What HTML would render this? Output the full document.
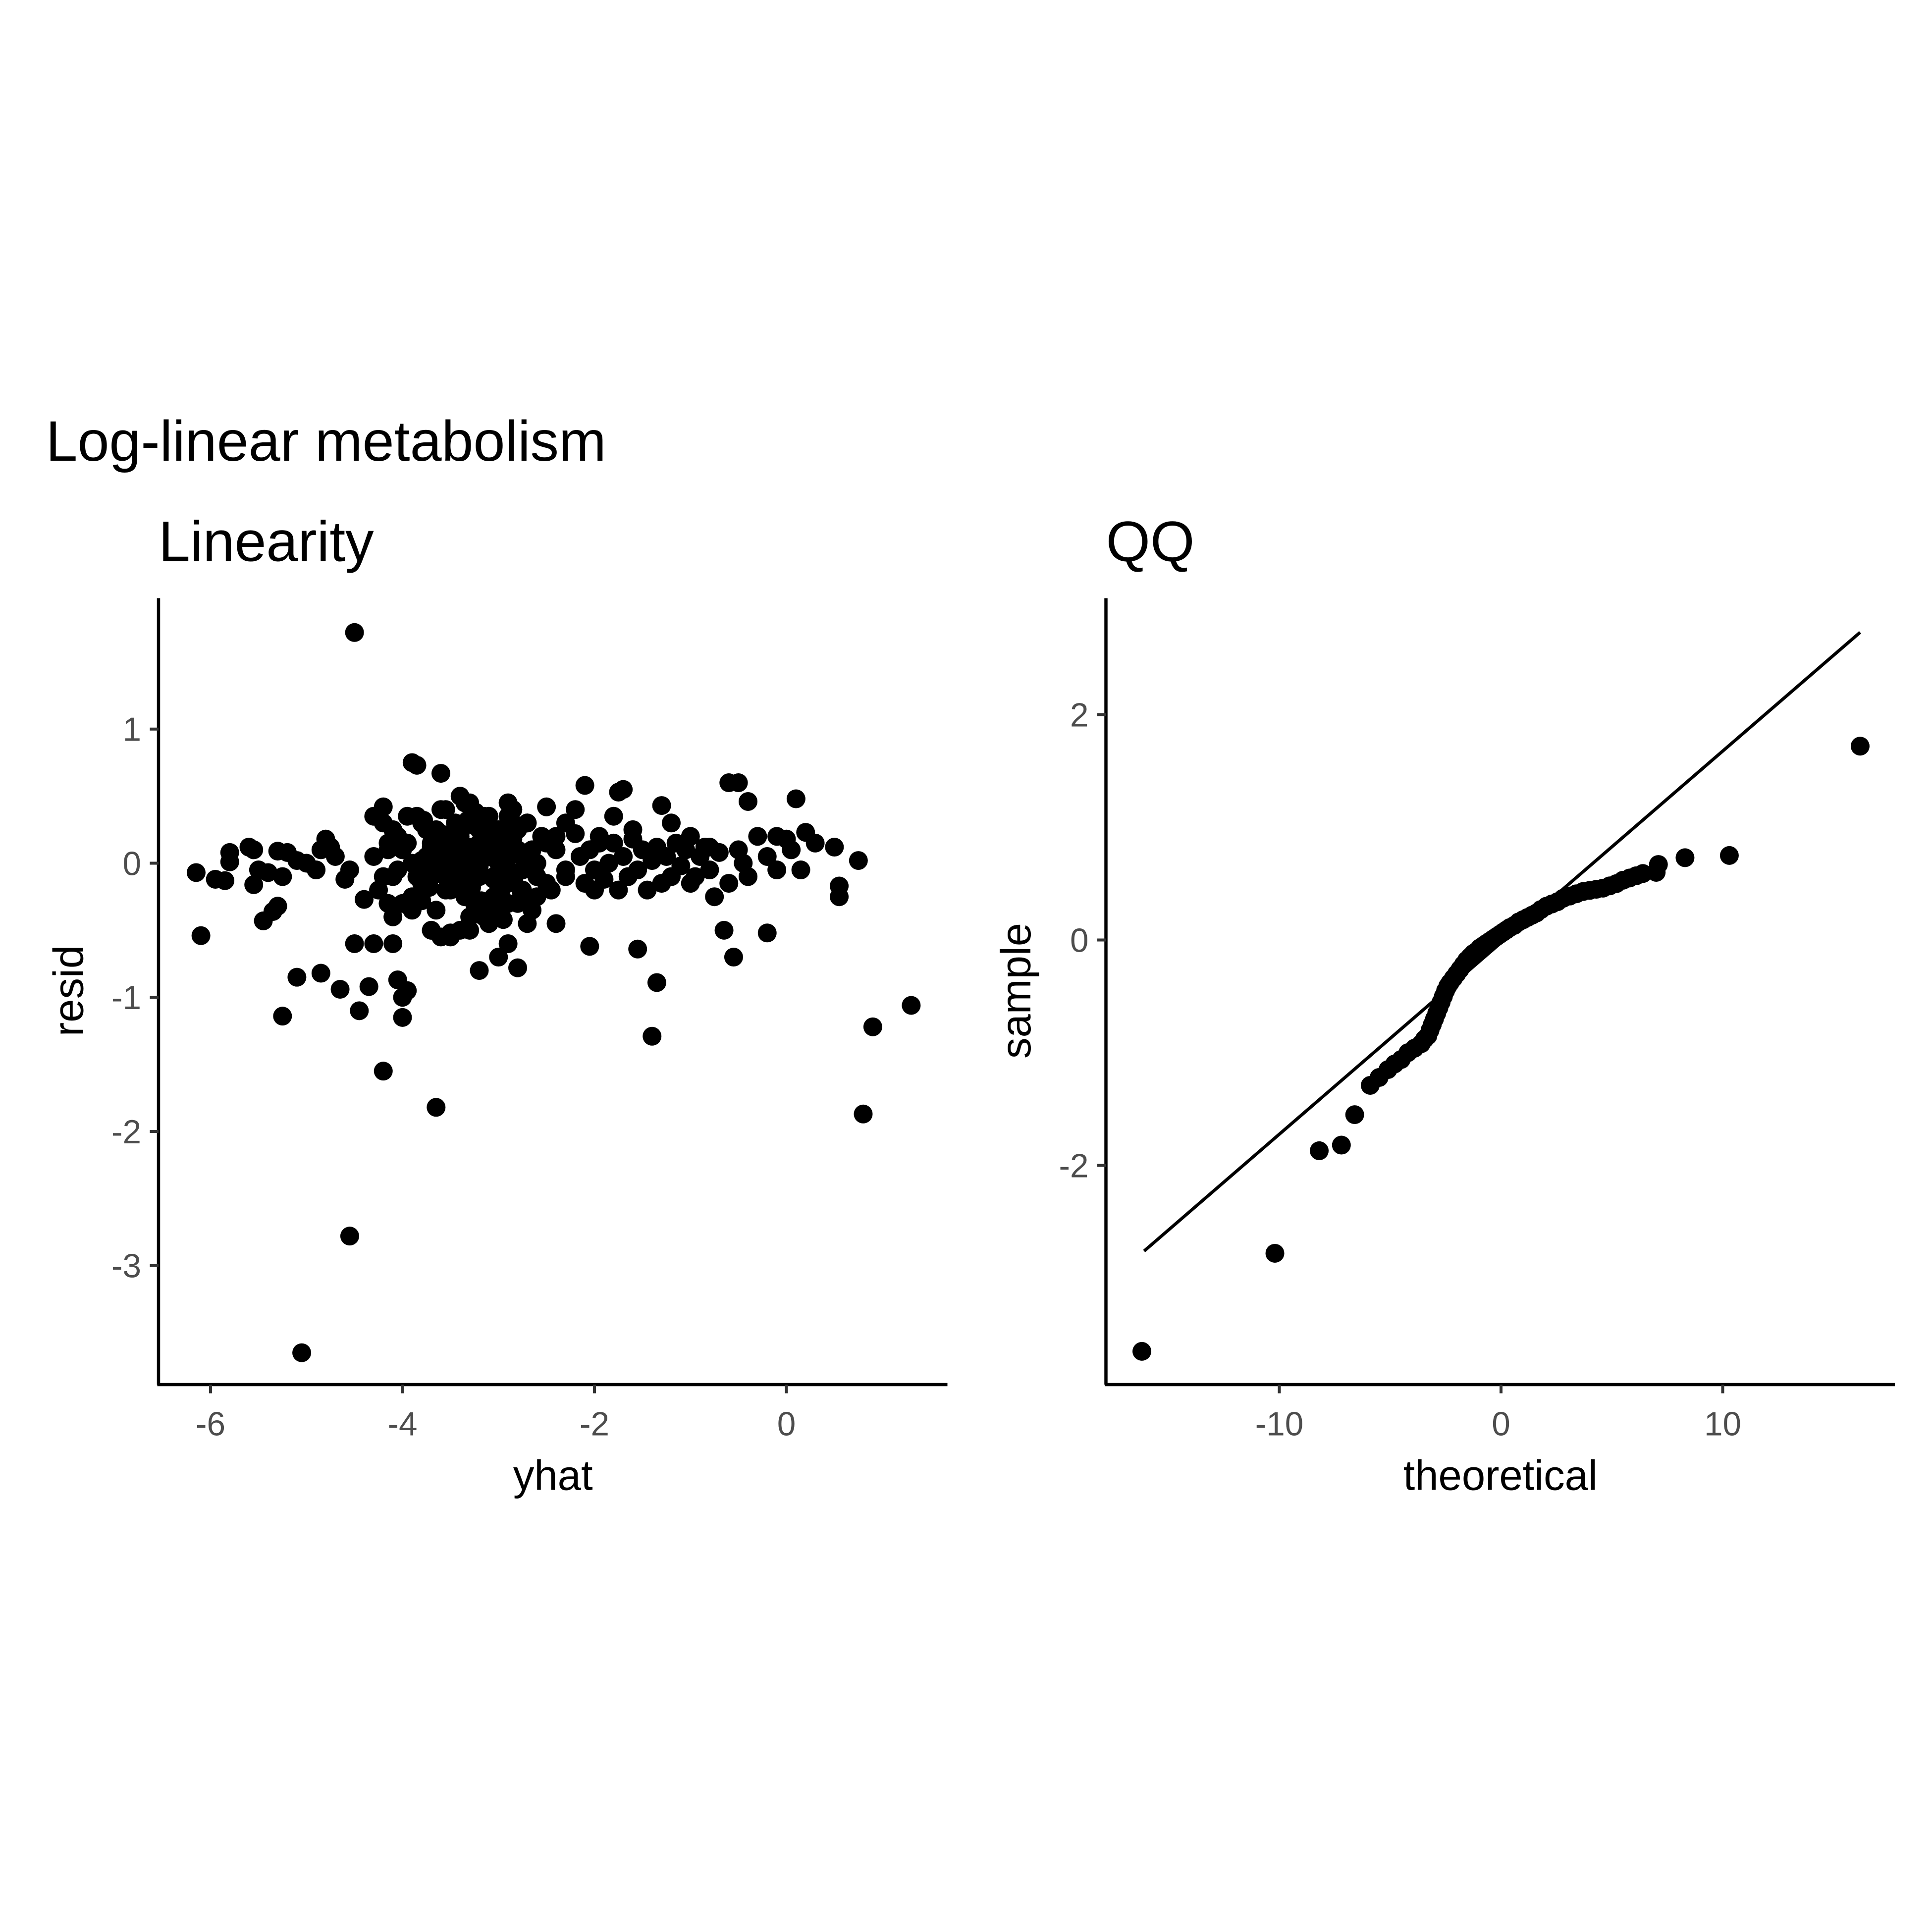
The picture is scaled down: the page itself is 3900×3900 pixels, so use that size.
<!DOCTYPE html>
<html><head><meta charset="utf-8"><style>
html,body{margin:0;padding:0;background:#fff;}
svg{display:block;}
text{font-family:"Liberation Sans",Arial,sans-serif;}
</style></head><body>
<svg id="chart" width="3900" height="3900" viewBox="0 0 1560 1560" xmlns="http://www.w3.org/2000/svg">
<rect width="1560" height="1560" fill="#fff"/>
<text x="37" y="372" font-size="46">Log-linear metabolism</text>
<text x="128" y="453" font-size="46">Linearity</text>
<text x="893" y="453" font-size="46">QQ</text>
<g id="left"></g>
<g id="right"></g>
</svg>
<script>
const linYhat=[-6.15,-6.1,-5.95,-5.85,-5.8,-5.8,-5.6,-5.55,-5.55,-5.5,-5.45,-5.4,-5.35,-5.3,-5.3,-5.25,-5.2,-5.25,-5.1,-5.05,-5.1,-5.0,-4.9,-4.85,-4.85,-4.8,-4.75,-4.7,-4.65,-4.6,-4.55,-4.55,-4.5,-4.5,-4.45,-4.4,-4.35,-4.3,-4.3,-4.2,-4.2,-4.15,-4.1,-4.05,-4.0,-4.0,-3.95,-3.9,-3.85,-3.7,-3.65,-3.6,-3.4,
-4.3,-4.25,-4.2,-4.15,-4.1,-4.05,-4.0,-3.95,-3.9,-3.85,-3.8,-3.75,-3.7,-3.65,-3.6,-3.55,-3.5,-3.45,-3.4,-3.35,-3.3,-3.25,-3.2,-3.15,-3.1,-3.05,-3.0,-2.95,-2.9,-2.85,-2.8,-2.75,-2.7,-2.65,-2.6,-2.55,-2.5,
-4.2,-4.1,-4.0,-3.9,-3.8,-3.7,-3.6,-3.5,-3.4,-3.3,-3.2,-3.1,-3.0,-2.9,-2.8,-2.7,-2.6,-2.5,-2.4,-2.3,
-4.15,-4.05,-3.95,-3.85,-3.75,-3.65,-3.55,-3.45,-3.35,-3.25,-3.15,-3.05,-2.95,-2.85,-2.75,-2.65,-2.55,-2.45,
-4.1,-3.9,-3.7,-3.5,-3.3,-3.1,-2.9,-2.7,-3.6,-3.4,-3.2,-3.0,-2.8,-3.5,-3.3,-3.1,-2.9,-3.45,-3.25,-3.05,
-2.4,-2.3,-2.2,-2.15,-2.1,-2.05,-2.0,-1.95,-1.9,-1.85,-1.8,-1.75,-1.7,-1.65,-1.6,-1.55,-1.5,-1.45,-1.4,-1.35,-1.3,-1.25,-1.2,-1.15,-1.1,-1.05,-1.0,-0.9,-0.85,-0.8,-0.75,-0.7,-0.6,-0.5,-0.45,-0.4,-0.3,-0.2,-0.1,0.0,0.05,0.15,
-2.1,-2.05,-1.95,-1.75,-1.7,-1.55,-1.4,-1.35,-1.3,-1.0,-0.95,-0.8,-0.65,-0.6,-0.55,-0.5,-0.4,-0.2,-0.1,0.1,0.2,0.3,0.5,0.55,0.55,0.75,0.8,0.9,1.3,
-2.8,-2.7,-2.6,-2.4,-2.3,-2.2,-2.0,-1.8,-1.6,-1.2,-3.0,-2.9,-3.2,-2.5,
-3.8,-3.75,-3.7,-3.65,-3.6,-3.55,-3.5,-3.45,-3.4,-3.35,-3.3,-3.25,-3.2,-3.15,-3.1,-3.05,-3.0,-2.95,-2.9,-2.85,
-3.8,-3.72,-3.64,-3.56,-3.48,-3.4,-3.32,-3.24,-3.16,-3.08,-3.0,-2.92,-2.84,-2.76,-2.68,
-3.78,-3.68,-3.58,-3.48,-3.38,-3.28,-3.18,-3.08,-2.98,-2.88,-2.78,
-3.7,-3.6,-3.5,-3.4,-3.3,-3.2,-3.1,-3.0,-2.9,-3.55,-3.35,-3.15,-2.95,-3.45,-3.25];
const linResid=[-0.07,-0.54,-0.12,-0.13,0.08,0.01,0.12,0.1,-0.16,-0.05,-0.43,-0.07,-0.36,-0.32,0.09,-0.1,0.08,-1.14,-0.85,-3.65,0.02,0.0,-0.05,-0.82,0.1,0.18,0.12,0.05,-0.94,-0.12,-0.05,-2.78,1.72,-0.6,-1.1,-0.27,-0.92,-0.6,0.35,-1.55,0.42,-0.3,-0.6,-0.87,-1.15,-1.0,-0.95,0.75,0.73,-0.5,-1.82,0.67,0.5,
0.05,-0.2,0.3,0.1,-0.1,0.2,-0.3,0.15,0.0,0.35,-0.15,0.25,0.05,-0.35,0.4,0.1,-0.05,0.3,0.2,-0.25,0.45,0.0,0.15,-0.4,0.35,-0.1,0.25,0.05,-0.3,0.4,0.1,-0.2,0.3,-0.35,0.0,0.2,-0.15,
-0.1,0.25,0.1,-0.25,0.3,0.0,0.2,-0.2,0.1,0.3,-0.1,0.2,0.0,-0.15,0.25,0.05,-0.1,0.15,0.2,-0.05,
0.15,-0.05,0.35,-0.1,0.05,0.25,-0.2,0.15,-0.05,0.1,0.35,-0.25,0.15,0.3,-0.05,0.1,0.2,-0.2,
-0.4,-0.35,-0.5,-0.55,-0.5,-0.45,-0.6,-0.45,-0.55,-0.5,-0.8,-0.7,-0.78,-0.52,-0.4,0.05,-0.05,0.0,0.1,-0.3,
0.1,-0.1,0.22,0.05,-0.15,0.1,-0.05,0.2,-0.12,0.0,0.15,-0.2,0.05,-0.1,0.18,-0.05,0.1,-0.2,0.02,0.12,-0.15,0.05,-0.1,0.15,-0.02,0.1,-0.15,0.05,0.12,-0.05,-0.25,0.08,-0.15,0.1,0.0,-0.1,0.2,0.05,-0.05,0.18,0.1,-0.05,
0.58,-0.62,0.15,0.53,0.55,-0.64,-1.29,-0.89,0.43,0.2,-0.1,0.12,-0.5,0.6,-0.7,0.6,0.46,-0.52,0.2,0.48,0.23,0.15,0.12,-0.17,-0.25,0.02,-1.87,-1.22,-1.06,
-0.3,0.3,-0.25,-0.45,0.3,0.4,-0.2,0.35,0.25,0.3,-0.35,0.45,0.25,0.42,
0.02,-0.08,0.12,-0.02,0.22,0.08,-0.12,0.18,0.02,-0.22,0.12,0.28,-0.02,0.08,0.22,-0.12,0.02,0.12,-0.08,0.18,
-0.28,-0.18,-0.08,0.02,0.12,0.22,0.32,0.38,0.28,0.18,0.08,-0.02,-0.12,-0.22,-0.28,
0.32,0.22,0.12,0.02,-0.08,-0.18,-0.28,-0.32,-0.22,0.28,0.06,
0.15,0.05,-0.05,-0.15,-0.05,0.05,0.15,0.25,0.35,0.4,0.45,-0.38,-0.42,0.2,-0.3];

const qqTheo=[-16.2,-10.2,-8.2,-7.2,-6.6,-5.9,-5.5,-5.1,-4.8,-4.5,-4.2,-3.9,-3.6,-3.45,-3.3,-3.2,-3.1,-3.0,-2.9,-2.8,-2.7,-2.6,-2.5,-2.4,-2.3,-2.15,-2.0,-1.85,-1.7,-1.55,-1.4,-1.25,-1.1,-0.95,-0.8,-0.65,-0.5,-0.35,-0.2,-0.05,0.1,0.25,0.4,0.6,0.8,1.0,1.2,1.4,1.6,1.8,2.05,2.3,2.55,2.8,3.1,3.4,3.7,4.0,4.3,4.6,4.9,5.2,5.5,5.8,6.1,6.4,7.0,7.1,8.3,10.3,16.2];
const qqSample=[-3.65,-2.78,-1.87,-1.82,-1.55,-1.29,-1.22,-1.15,-1.1,-1.06,-1.0,-0.96,-0.92,-0.88,-0.85,-0.8,-0.75,-0.7,-0.65,-0.6,-0.55,-0.5,-0.45,-0.41,-0.38,-0.34,-0.3,-0.26,-0.22,-0.18,-0.15,-0.12,-0.1,-0.07,-0.05,-0.03,-0.01,0.01,0.03,0.05,0.07,0.09,0.11,0.13,0.16,0.18,0.2,0.22,0.24,0.27,0.3,0.32,0.34,0.37,0.39,0.41,0.43,0.44,0.45,0.46,0.48,0.5,0.53,0.55,0.57,0.59,0.6,0.67,0.73,0.75,1.72];
const qqLineX=[-16.1,16.2];
const qqLineY=[-2.76,2.73];
const linXTicks=[-6,-4,-2,0];
const linYTicks=[1,0,-1,-2,-3];
const qqXTicks=[-10,0,10];
const qqYTicks=[2,0,-2];

const NS="http://www.w3.org/2000/svg";
function mk(tag,attrs,parent){const e=document.createElementNS(NS,tag);for(const k in attrs)e.setAttribute(k,attrs[k]);parent.appendChild(e);return e;}

function panel(g,o){
  const sx=v=>o.x0px+(v-o.x0)*o.xs, sy=v=>o.y0px-(v-o.y0)*o.ys;
  const ya=mk('line',{x1:o.L,y1:483,x2:o.L,y2:1118,stroke:'#000','stroke-width':2.6},g);
  
  
  const xa=mk('line',{x1:o.L-1,y1:1118,x2:o.R,y2:1118,stroke:'#000','stroke-width':2.6},g);
  
  
  o.xt.forEach(t=>{const X=sx(t);
    const tk=mk('line',{x1:X,y1:1118,x2:X,y2:1125,stroke:'#333','stroke-width':2.4},g);
    
    
    const tl=mk('text',{x:X,y:1159,'font-size':27,fill:'#4d4d4d','text-anchor':'middle'},g);tl.textContent=t;
    
    });
  o.yt.forEach(t=>{const Y=sy(t);
    const tk=mk('line',{x1:o.L-7,y1:Y,x2:o.L,y2:Y,stroke:'#333','stroke-width':2.4},g);
    
    
    const tl=mk('text',{x:o.L-14,y:Y+9.5,'font-size':27,fill:'#4d4d4d','text-anchor':'end'},g);tl.textContent=t;
    
    });
  const xt=mk('text',{x:(o.L+o.R)/2,y:1203,'font-size':34,'text-anchor':'middle'},g);xt.textContent=o.xl;
  
  
  const yc=800;
  const yt=mk('text',{x:o.L-61,y:yc,'font-size':34,'text-anchor':'middle',transform:`rotate(-90 ${o.L-61} ${yc})`},g);yt.textContent=o.yl;
  
  
  if(o.line){const ln=mk('line',{x1:sx(o.line[0][0]),y1:sy(o.line[1][0]),x2:sx(o.line[0][1]),y2:sy(o.line[1][1]),stroke:'#000','stroke-width':2.6},g);
    
    }
  o.px.forEach((v,i)=>{const c=mk('circle',{cx:sx(v),cy:sy(o.py[i]),r:7.6,fill:'#000'},g);
    
    });
}
panel(document.getElementById('left'),{L:128,R:765,x0:0,x0px:635,xs:77.5,y0:0,y0px:697,ys:108.3,xt:linXTicks,yt:linYTicks,xl:'yhat',yl:'resid',px:linYhat,py:linResid});
panel(document.getElementById('right'),{L:893,R:1530,x0:0,x0px:1212,xs:17.9,y0:0,y0px:759,ys:91,xt:qqXTicks,yt:qqYTicks,xl:'theoretical',yl:'sample',px:qqTheo,py:qqSample,line:[qqLineX,qqLineY]});
</script>
</body></html>
